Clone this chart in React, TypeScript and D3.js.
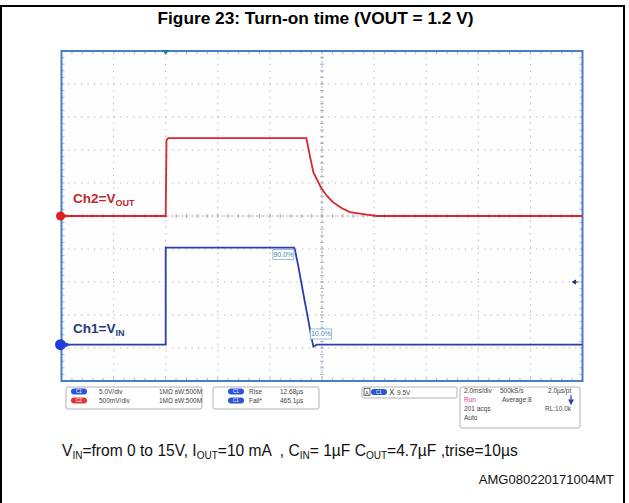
import React from "react";
import * as d3 from "d3";

// time in ms (2 ms/div, 10 div), values in volts
const ch2Times = [0, 4.0, 4.03, 4.1, 9.4, 9.54, 9.67, 9.99, 10.2, 10.42, 10.75, 11.07, 11.72, 12.1, 20];
const ch2Volts = [0, 0, 1.15, 1.18, 1.18, 0.9, 0.66, 0.41, 0.3, 0.21, 0.12, 0.06, 0.02, 0, 0];

const ch1Times = [0, 4.0, 4.0, 8.93, 8.96, 9.09, 9.28, 9.47, 9.6, 9.67, 9.8, 20];
const ch1Volts = [0, 0, 14.7, 14.7, 14.4, 11.9, 7.8, 3.8, 1.0, -0.3, 0, 0];

const timePerDiv = 2;
const ch1PerDiv = 5;
const ch2PerDiv = 0.5;
const ch1OffsetDiv = 1.1;
const ch2OffsetDiv = 5;
const trigTime = 4;
const trigLevel = 9.5;
const riseMarks = [0.9, 0.1];

const W = 629;
const H = 503;

type Pt = { t: number; v: number };

export default function App() {
    const left = 61.5;
    const right = 582.5;
    const top = 51;
    const bottom = 381;

    const x = d3.scaleLinear().domain([0, 10 * timePerDiv]).range([left, right]);
    const yDiv = d3.scaleLinear().domain([0, 10]).range([bottom, top]);
    const y1 = d3
        .scaleLinear()
        .domain([-ch1OffsetDiv * ch1PerDiv, (10 - ch1OffsetDiv) * ch1PerDiv])
        .range([bottom, top]);
    const y2 = d3
        .scaleLinear()
        .domain([-ch2OffsetDiv * ch2PerDiv, (10 - ch2OffsetDiv) * ch2PerDiv])
        .range([bottom, top]);

    const ch1: Pt[] = ch1Times.map((t, i) => ({ t, v: ch1Volts[i] }));
    const ch2: Pt[] = ch2Times.map((t, i) => ({ t, v: ch2Volts[i] }));

    const line1 = d3.line<Pt>().x((d) => x(d.t)).y((d) => y1(d.v));
    const line2 = d3.line<Pt>().x((d) => x(d.t)).y((d) => y2(d.v));

    const divs = d3.range(1, 10);
    const minorX = d3.range(0, 10.01, 0.2).map((d) => x(d * timePerDiv));
    const minorY = d3.range(0, 10.01, 0.2).map((d) => yDiv(d));
    const cx = x(5 * timePerDiv);
    const cy = yDiv(5);

    const gridColor = "#bdbdbd";
    const tickColor = "#8d9fc0";
    const frameColor = "#4a7cc8";

    const ch1Max = d3.max(ch1Volts) ?? 0;
    const fallStart = ch1Times[4];
    const fallEnd = ch1Times[9];

    const textStyle = { fontFamily: "Liberation Sans, Arial, sans-serif", fontSize: 6.5, fill: "#444" };

    const pill = (px: number, py: number, color: string, label: string) => (
        <g>
            <rect x={px} y={py} width={16} height={6} rx={3} fill={color} />
            <text x={px + 8} y={py + 4.8} textAnchor="middle" fontSize={4.5} fill="#fff" fontFamily="Liberation Sans, Arial">
                {label}
            </text>
        </g>
    );

    return (
        <svg width={W} height={H} style={{ position: "absolute", left: 0, top: 0, background: "#fff" }}>
            {/* outer frame, open at the bottom */}
            <path d={`M1,${H} V6 H624 V${H}`} fill="none" stroke="#000" strokeWidth={2} />
            <text
                x={315.5}
                y={24}
                textAnchor="middle"
                fontFamily="Liberation Sans, Arial, sans-serif"
                fontWeight="bold"
                fontSize={17.3}
                fill="#000"
            >
                Figure 23: Turn-on time (VOUT = 1.2 V)
            </text>

            {/* scope screen */}
            <rect x={left} y={top} width={right - left} height={bottom - top} fill="#fefefe" />
            {divs.map((d) => (
                <line
                    key={"vx" + d}
                    x1={x(d * timePerDiv)}
                    x2={x(d * timePerDiv)}
                    y1={top}
                    y2={bottom}
                    stroke={gridColor}
                    strokeDasharray="1.5,5"
                />
            ))}
            {divs.map((d) => (
                <line
                    key={"hy" + d}
                    x1={left}
                    x2={right}
                    y1={yDiv(d)}
                    y2={yDiv(d)}
                    stroke={gridColor}
                    strokeDasharray="1.5,5"
                />
            ))}
            {/* minor ticks on center cross and edges */}
            {minorX.map((px, i) => (
                <g key={"mx" + i} stroke={tickColor} strokeWidth={0.8}>
                    <line x1={px} x2={px} y1={cy - 2} y2={cy + 2} />
                    <line x1={px} x2={px} y1={top} y2={top + 3} />
                    <line x1={px} x2={px} y1={bottom - 3} y2={bottom} />
                </g>
            ))}
            {minorY.map((py, i) => (
                <g key={"my" + i} stroke={tickColor} strokeWidth={0.8}>
                    <line x1={cx - 2} x2={cx + 2} y1={py} y2={py} />
                    <line x1={left} x2={left + 3} y1={py} y2={py} />
                    <line x1={right - 3} x2={right} y1={py} y2={py} />
                </g>
            ))}
            <line x1={cx} x2={cx} y1={top} y2={bottom} stroke="#b0b0b0" strokeDasharray="2,3" />
            <line x1={left} x2={right} y1={cy} y2={cy} stroke="#b0b0b0" strokeDasharray="2,3" />
            <rect x={left} y={top} width={right - left} height={bottom - top} fill="none" stroke={frameColor} strokeWidth={2} />

            {/* traces */}
            <path d={line2(ch2) ?? ""} fill="none" stroke="#d9262c" strokeWidth={1.8} />
            <path d={line1(ch1) ?? ""} fill="none" stroke="#2c3db0" strokeWidth={1.8} />

            {/* 90 / 10 % markers */}
            <g fontFamily="Liberation Sans, Arial" fontSize={7} fill="#3f86a8">
                <rect
                    x={x(fallStart) - 22}
                    y={y1(riseMarks[0] * ch1Max) - 8}
                    width={21}
                    height={10}
                    fill="#fff"
                    stroke="#7fb0c8"
                    strokeWidth={0.8}
                />
                <text x={x(fallStart) - 11.5} y={y1(riseMarks[0] * ch1Max) - 0.5} textAnchor="middle">
                    90.0%
                </text>
                <rect
                    x={x(fallEnd) - 3}
                    y={y1(riseMarks[1] * ch1Max) - 6}
                    width={21}
                    height={10}
                    fill="#fff"
                    stroke="#7fb0c8"
                    strokeWidth={0.8}
                />
                <text x={x(fallEnd) + 7.5} y={y1(riseMarks[1] * ch1Max) + 1.5} textAnchor="middle">
                    10.0%
                </text>
            </g>

            {/* channel labels */}
            <text x={73} y={y2(0) - 13} fontFamily="Liberation Sans, Arial" fontWeight="bold" fontSize={13.5} fill="#c0282d">
                Ch2=V<tspan fontSize={9} dy={3}>OUT</tspan>
            </text>
            <text x={73} y={y1(0) - 12} fontFamily="Liberation Sans, Arial" fontWeight="bold" fontSize={13.5} fill="#243a80">
                Ch1=V<tspan fontSize={9} dy={3}>IN</tspan>
            </text>

            {/* ground markers */}
            <circle cx={left - 1} cy={y2(0)} r={4.5} fill="#e02020" />
            <path d={`M${left + 3},${y2(0) - 2} L${left + 7},${y2(0)} L${left + 3},${y2(0) + 2} Z`} fill="#e02020" />
            <circle cx={left - 1} cy={y1(0)} r={5.5} fill="#1f3fd8" />
            <path d={`M${left + 4},${y1(0) - 2.5} L${left + 9},${y1(0)} L${left + 4},${y1(0) + 2.5} Z`} fill="#1f3fd8" />

            {/* trigger markers */}
            <path d={`M${x(trigTime) - 3.5},${top - 1} L${x(trigTime) + 3.5},${top - 1} L${x(trigTime)},${top + 4} Z`} fill="#17869a" />
            <path d={`M${right - 4},${y1(trigLevel)} L${right - 10},${y1(trigLevel)} M${right - 10},${y1(trigLevel)} l3,-2 v4 Z`} stroke="#243a80" fill="#243a80" strokeWidth={1} />

            {/* info panels */}
            <g style={textStyle as any}>
                <rect x={66} y={387} width={136} height={22} rx={2} fill="#fff" stroke="#a0a0a0" strokeWidth={0.8} />
                {pill(71, 388.5, "#2b55d6", "C1")}
                <text x={99} y={394}>5.0V/div</text>
                <text x={159} y={394}>1MΩ  <tspan fontSize={5}>B</tspan>W:500M</text>
                {pill(71, 397.5, "#e03636", "C2")}
                <text x={99} y={403}>500mV/div</text>
                <text x={159} y={403}>1MΩ  <tspan fontSize={5}>B</tspan>W:500M</text>

                <rect x={213} y={387} width={106} height={22} rx={2} fill="#fff" stroke="#a0a0a0" strokeWidth={0.8} />
                {pill(228, 388.5, "#2b55d6", "C1")}
                <text x={249} y={394}>Rise</text>
                <text x={280} y={394}>12.68µs</text>
                {pill(228, 397.5, "#2b55d6", "C1")}
                <text x={249} y={403}>Fall*</text>
                <text x={280} y={403}>465.1µs</text>

                <rect x={362} y={387} width={95} height={11} rx={1.5} fill="#fff" stroke="#a0a0a0" strokeWidth={0.8} />
                <rect x={364} y={388.5} width={6} height={7} fill="#fff" stroke="#334" strokeWidth={0.7} />
                <text x={365} y={394.5} fontSize={5.5}>A</text>
                {pill(371, 389, "#2b55d6", "C1")}
                <text x={389} y={395} fontSize={8}>Ⅹ</text>
                <text x={397} y={394.5}>9.5V</text>

                <rect x={460} y={387} width={120} height={41} rx={2} fill="#fff" stroke="#a0a0a0" strokeWidth={0.8} />
                <text x={464} y={393}>2.0ms/div</text>
                <text x={500} y={393}>500kS/s</text>
                <text x={548} y={393}>2.0µs/pt</text>
                <text x={464} y={402} fill="#e040a0">Run</text>
                <text x={502} y={402}>Average:8</text>
                <text x={464} y={411}>201 acqs</text>
                <text x={545} y={411}>RL:10.0k</text>
                <text x={464} y={420}>Auto</text>
                <path d="M571,395 V402 M569,400 L571,404 L573,400 Z" stroke="#2b3fb5" fill="#2b3fb5" strokeWidth={1.2} />
            </g>

            {/* caption */}
            <text x={62} y={456} fontFamily="Liberation Sans, Arial, sans-serif" fontSize={15.6} fill="#111">
                V<tspan fontSize={10} dy={3}>IN</tspan>
                <tspan dy={-3}>=from 0 to 15V, I</tspan>
                <tspan fontSize={10} dy={3}>OUT</tspan>
                <tspan dy={-3}>{"=10 mA \u00a0, C"}</tspan>
                <tspan fontSize={10} dy={3}>IN</tspan>
                <tspan dy={-3}>= 1µF C</tspan>
                <tspan fontSize={10} dy={3}>OUT</tspan>
                <tspan dy={-3}>=4.7µF ,trise=10µs</tspan>
            </text>
            <text x={614} y={484} textAnchor="end" fontFamily="Liberation Sans, Arial, sans-serif" fontSize={13} fill="#111">
                AMG080220171004MT
            </text>
        </svg>
    );
}
